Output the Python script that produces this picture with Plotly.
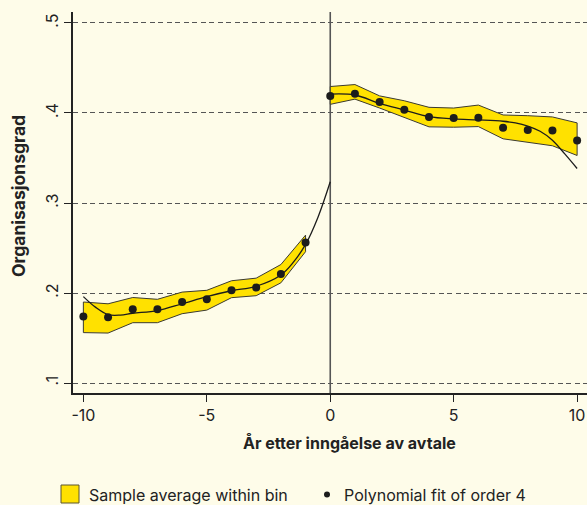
import plotly.graph_objects as go

# ---- data ----
x_left = [-10, -9, -8, -7, -6, -5, -4, -3, -2, -1]
avg_left = [0.174, 0.173, 0.182, 0.182, 0.190, 0.193, 0.203, 0.206, 0.221, 0.256]
upper_left = [0.190, 0.188, 0.195, 0.193, 0.201, 0.203, 0.2136, 0.2165, 0.2316, 0.2643]
lower_left = [0.156, 0.1555, 0.167, 0.167, 0.177, 0.181, 0.1948, 0.197, 0.2113, 0.2459]

x_right = [0, 1, 2, 3, 4, 5, 6, 7, 8, 9, 10]
avg_right = [0.419, 0.4213, 0.4121, 0.4036, 0.3956, 0.3945, 0.3948, 0.3835, 0.381, 0.3805, 0.3695]
upper_right = [0.4294, 0.4316, 0.419, 0.4136, 0.4063, 0.4055, 0.4088, 0.3978, 0.397, 0.3956, 0.389]
lower_right = [0.4096, 0.4154, 0.4055, 0.3953, 0.3846, 0.3842, 0.3849, 0.3713, 0.3677, 0.3636, 0.3528]

fit_left_x = [-10, -9.5, -9, -8.5, -8, -7, -6, -5, -4, -3, -2, -1.5, -1, -0.5, 0]
fit_left_y = [0.196, 0.184, 0.176, 0.1755, 0.1775, 0.1805, 0.188, 0.196, 0.2025, 0.2075, 0.220, 0.234, 0.254, 0.284, 0.3236]
fit_right_x = [0, 1, 2, 3, 4, 5, 6, 7, 7.5, 8, 8.5, 9, 9.5, 10]
fit_right_y = [0.421, 0.420, 0.4107, 0.4033, 0.396, 0.3934, 0.3923, 0.3908, 0.389, 0.3855, 0.3797, 0.3698, 0.3545, 0.3383]

y_ticks = [0.1, 0.2, 0.3, 0.4, 0.5]
y_ticklabels = [".1", ".2", ".3", ".4", ".5"]
x_ticks = [-10, -5, 0, 5, 10]
x_ticklabels = ["-10", "-5", "0", "5", "10"]

legend_labels = ["Sample average within bin", "Polynomial fit of order 4"]
x_title = "År etter inngåelse av avtale"
y_title = "Organisasjonsgrad"

# ---- style ----
BG = "#FEFCE9"
YELLOW = "#FFE100"
OUTLINE = "#3b3a30"
DARK = "#1c1c1c"
FONT = "Inter"

W, H = 587, 505
ML, MR, MT, MB = 73, 0, 12, 112
PW, PH = W - ML - MR, H - MT - MB


def px(xp):
    return (xp - ML) / PW


def py(yp):
    return (H - MB - yp) / PH


fig = go.Figure()


def band(xs, up, lo):
    bx = list(xs) + list(reversed(xs)) + [xs[0]]
    by = list(up) + list(reversed(lo)) + [up[0]]
    fig.add_trace(go.Scatter(x=bx, y=by, mode="lines", fill="toself",
                             fillcolor=YELLOW, line=dict(color=OUTLINE, width=1),
                             hoverinfo="skip", showlegend=False))


band(x_left, upper_left, lower_left)
band(x_right, upper_right, lower_right)

for fx, fy in [(fit_left_x, fit_left_y), (fit_right_x, fit_right_y)]:
    fig.add_trace(go.Scatter(x=fx, y=fy, mode="lines", line=dict(color=DARK, width=1.3, shape="spline"),
                             showlegend=False))

for ax, ay in [(x_left, avg_left), (x_right, avg_right)]:
    fig.add_trace(go.Scatter(x=ax, y=ay, mode="markers",
                             marker=dict(color=DARK, size=8), showlegend=False))

# vertical cutoff line at 0
fig.add_shape(type="line", xref="x", yref="paper", x0=0, x1=0, y0=0, y1=1,
              line=dict(color="#555555", width=1.6), layer="below")

# legend (manual)
fig.add_shape(type="rect", xref="paper", yref="paper",
              x0=px(61), x1=px(79), y0=py(503), y1=py(485),
              fillcolor=YELLOW, line=dict(color="#5a5530", width=1))
fig.add_annotation(xref="paper", yref="paper", x=px(87), y=py(494.5), text=legend_labels[0],
                   showarrow=False, xanchor="left", yanchor="middle",
                   font=dict(family=FONT, size=16, color="#222222"))
fig.add_shape(type="circle", xref="paper", yref="paper",
              x0=px(324), x1=px(330), y0=py(497.5), y1=py(491.5),
              fillcolor=DARK, line=dict(color=DARK, width=0))
fig.add_annotation(xref="paper", yref="paper", x=px(342), y=py(494.5), text=legend_labels[1],
                   showarrow=False, xanchor="left", yanchor="middle",
                   font=dict(family=FONT, size=16, color="#222222"))

# axis titles
fig.add_annotation(xref="paper", yref="paper", x=px(349), y=py(443), text="<b>" + x_title + "</b>",
                   showarrow=False, xanchor="center", yanchor="middle",
                   font=dict(family=FONT, size=16, color="#222222"))
fig.add_annotation(xref="paper", yref="paper", x=px(18), y=py(196), text="<b>" + y_title + "</b>",
                   showarrow=False, xanchor="center", yanchor="middle", textangle=-90,
                   font=dict(family=FONT, size=17.5, color="#222222"))

fig.update_layout(
    width=W, height=H,
    margin=dict(l=ML, r=MR, t=MT, b=MB),
    paper_bgcolor=BG, plot_bgcolor=BG,
    showlegend=False,
    font=dict(family=FONT, size=16, color="#222222"),
    xaxis=dict(range=[-10.42, 10.40], tickvals=x_ticks, ticktext=x_ticklabels,
               showgrid=False, zeroline=False, showline=True, linecolor="#222222", linewidth=1.5,
               ticks="outside", ticklen=7, tickwidth=1.2, tickcolor="#222222",
               tickfont=dict(family=FONT, size=16)),
    yaxis=dict(range=[0.0889, 0.5122], tickvals=y_ticks, ticktext=y_ticklabels,
               showgrid=True, gridcolor="#555555", gridwidth=1.2, griddash="5px,3.5px",
               zeroline=False, showline=True, linecolor="#222222", linewidth=1.5,
               ticks="outside", ticklen=7, tickwidth=1.2, tickcolor="#222222",
               tickangle=-90, tickfont=dict(family=FONT, size=16)),
)

fig.write_html(
    "out.html",
    config={"displayModeBar": False},
    post_script="document.body.style.margin='0';document.body.style.padding='0';"
                "document.documentElement.style.overflow='hidden';"
                "document.body.style.background='" + BG + "';",
)
